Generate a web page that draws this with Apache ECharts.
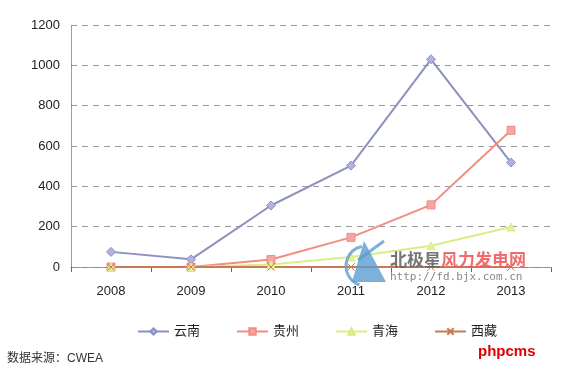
<!DOCTYPE html>
<html>
<head>
<meta charset="utf-8">
<script src="https://cdn.jsdelivr.net/npm/echarts@6/dist/echarts.min.js"></script>
<style>html,body{margin:0;padding:0;background:#fff;}#c{width:580px;height:371px;}</style>
</head>
<body>
<div id="c"></div>
<script>
var categories = ['2008', '2009', '2010', '2011', '2012', '2013'];
var yunnan = [75, 38, 305, 503, 1030, 518];
var guizhou = [0, 0, 37, 147, 308, 678];
var qinghai = [0, 0, 12, 50, 105, 198];
var xizang = [0, 0, 0, 0, 0, 0];
var seriesNames = ['云南', '贵州', '青海', '西藏'];

var font = 'Liberation Sans, Arial, sans-serif';
var cjk = 'Liberation Sans, Noto Sans CJK SC, sans-serif';

var chart = echarts.init(document.getElementById('c'));
function mk(name, data, color, fill, symbol, size) {
  return {
    name: name, type: 'line', data: data, symbol: symbol, symbolSize: size,
    showSymbol: true,
    lineStyle: { color: color, width: 2 },
    itemStyle: { color: fill, borderColor: color, borderWidth: 1 },
    z: 3
  };
}
chart.setOption({
  animation: false,
  backgroundColor: '#ffffff',
  grid: { left: 71, right: 29, top: 25, bottom: 104 },
  legend: {
    data: seriesNames,
    left: 132, top: 320,
    itemWidth: 31, itemHeight: 8, itemGap: 36,
    textStyle: { fontFamily: cjk, fontSize: 13, color: '#222' }
  },
  xAxis: {
    type: 'category', data: categories, boundaryGap: true,
    axisLine: { show: true, lineStyle: { color: '#888', type: 'dotted', width: 1 } },
    axisTick: { show: true, length: 5, lineStyle: { color: '#666' } },
    axisLabel: { fontFamily: font, fontSize: 13, color: '#222', margin: 18 }
  },
  yAxis: {
    type: 'value', min: 0, max: 1200, interval: 200,
    axisLine: { show: true, lineStyle: { color: '#888', type: 'dotted', width: 1 } },
    axisTick: { show: false },
    axisLabel: { fontFamily: font, fontSize: 13, color: '#222', margin: 11, formatter: function (v) { return String(v); } },
    splitLine: { show: true, lineStyle: { color: '#9a9a9a', type: [6, 5], width: 1 } }
  },
  series: [
    mk('云南', yunnan, '#8c91bd', '#aeb4e2', 'diamond', 9),
    mk('贵州', guizhou, '#f28c80', '#f5a6a3', 'rect', 8),
    mk('青海', qinghai, '#d8ee85', '#e2f29a', 'triangle', 8),
    mk('西藏', xizang, '#c97a55', '#e9a26a', 'path://M0,0L10,10M10,0L0,10Z', 7)
  ],
  graphic: [
    { type: 'polygon', shape: { points: [[364, 241], [352, 282], [386, 282]] }, style: { fill: '#5a9dd2', opacity: 0.8 }, z: 10 },
    { type: 'arc', shape: { cx: 366, cy: 266, r: 20, startAngle: 1.9, endAngle: 4.5 }, style: { stroke: '#5a9dd2', lineWidth: 3, fill: null, opacity: 0.8 }, z: 10 },
    { type: 'line', shape: { x1: 358, y1: 260, x2: 384, y2: 241 }, style: { stroke: '#5a9dd2', lineWidth: 3, opacity: 0.8 }, z: 10 },
    { type: 'text', left: 390, top: 251, style: { text: '北极星', fontFamily: 'Noto Sans CJK SC', fontWeight: 'bold', fontSize: 17, fill: '#666', opacity: 0.9 }, z: 10 },
    { type: 'text', left: 441, top: 251, style: { text: '风力发电网', fontFamily: 'Noto Sans CJK SC', fontWeight: 'bold', fontSize: 17, fill: '#ee5a5e', opacity: 0.9 }, z: 10 },
    { type: 'text', left: 390, top: 272, style: { text: 'http://fd.bjx.com.cn', fontFamily: 'DejaVu Sans Mono', fontSize: 11, fill: '#888' }, z: 10 },
    { type: 'text', left: 478, top: 344, style: { text: 'phpcms', fontFamily: 'Liberation Sans', fontWeight: 'bold', fontSize: 15, fill: '#e00000' }, z: 10 },
    { type: 'text', left: 7, top: 353, style: { text: '数据来源：CWEA', fontFamily: 'Liberation Sans, Noto Sans CJK SC', fontSize: 12, fill: '#333' }, z: 10 }
  ]
});
</script>
</body>
</html>
